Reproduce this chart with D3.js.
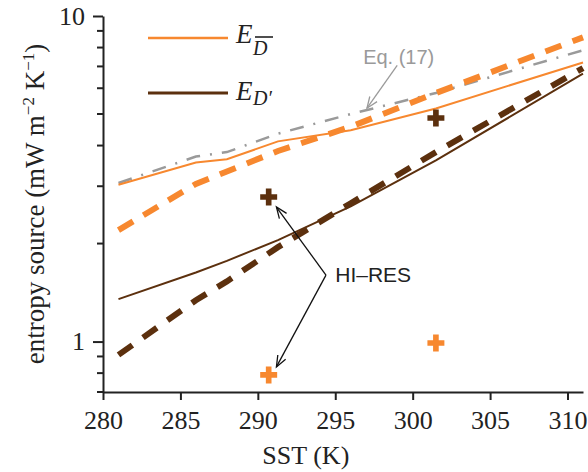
<!DOCTYPE html>
<html>
<head>
    <script src="https://d3js.org/d3.v7.min.js"></script>
    <style>
        body { margin: 0; background: #fff; }
        .tick text { font-family: "Liberation Serif", "Times New Roman", serif; font-size: 26px; fill: #222; }
        .axis path, .axis line { stroke: #222; stroke-width: 2px; }
        .note { font-family: "Liberation Sans", Arial, sans-serif; font-size: 20px; }
    </style>
</head>
<body>
<svg id="chart" width="588" height="472"></svg>
<script>
// SST (K) at which the model curves are given
const sst = [281, 286, 288, 291.3, 296, 301.5, 311];
const eqSeventeen = [3.07, 3.7, 3.82, 4.35, 5.0, 5.8, 7.85];
const eDbar = [3.03, 3.55, 3.63, 4.12, 4.46, 5.2, 7.2];
const eDprime = [1.35, 1.63, 1.77, 2.05, 2.6, 3.6, 6.65];
const eDbarDashed = [2.2, 3.05, 3.33, 3.85, 4.57, 5.8, 8.6];
const eDprimeDashed = [0.91, 1.34, 1.53, 1.95, 2.66, 3.82, 6.92];

// HI-RES points
const hiresSst = [290.7, 301.5];
const hiresDbar = [0.79, 0.99];
const hiresDprime = [2.78, 4.86];

const xTicks = [280, 285, 290, 295, 300, 305, 310];
const yMajor = [1, 10];
const yMinor = [0.7, 0.8, 0.9, 2, 3, 4, 5, 6, 7, 8, 9];

const orange = '#f7882f', brown = '#5c300e', gray = '#9a9a9a';

const svg = d3.select('#chart');
const mLeft = 103, mRight = 583, mTop = 16, mBottom = 392;

const x = d3.scaleLinear().domain([280, 311]).range([mLeft, mRight]);
const y = d3.scaleLog().domain([0.7, 10]).range([mBottom, mTop]);

// axes
svg.append('g')
    .attr('class', 'axis')
    .attr('transform', `translate(0,${mBottom})`)
    .call(d3.axisBottom(x).tickValues(xTicks).tickSize(8).tickPadding(6).tickSizeOuter(0))
    .call(g => g.selectAll('.tick text').attr('dy', '0.9em'));

const yAxis = svg.append('g')
    .attr('class', 'axis')
    .attr('transform', `translate(${mLeft},0)`)
    .call(d3.axisLeft(y).tickValues(yMajor).tickFormat(d3.format('d')).tickSize(10).tickPadding(8).tickSizeOuter(0));

yAxis.selectAll('.minor')
    .data(yMinor)
    .join('line')
    .attr('class', 'minor')
    .attr('x1', -6).attr('x2', 0)
    .attr('y1', d => y(d)).attr('y2', d => y(d));

// axis titles
svg.append('text')
    .attr('x', x(293.1)).attr('y', 464)
    .attr('text-anchor', 'middle')
    .style('font-family', '"Liberation Serif", serif')
    .style('font-size', '26px')
    .style('fill', '#222')
    .text('SST (K)');

const yl = svg.append('text')
    .attr('transform', `translate(44,204) rotate(-90)`)
    .attr('text-anchor', 'middle')
    .style('font-family', '"Liberation Serif", serif')
    .style('font-size', '27px')
    .style('fill', '#222');
yl.append('tspan').text('entropy source (mW m');
yl.append('tspan').attr('dy', -10).style('font-size', '17px').text('\u22122');
yl.append('tspan').attr('dy', 10).text(' K');
yl.append('tspan').attr('dy', -10).style('font-size', '17px').text('\u22121');
yl.append('tspan').attr('dy', 10).text(')');

// curves
const line = d3.line().x((d, i) => x(sst[i])).y(d => y(d));

function drawCurve(values, color, width, dash) {
    svg.append('path')
        .datum(values)
        .attr('d', line)
        .attr('fill', 'none')
        .attr('stroke', color)
        .attr('stroke-width', width)
        .attr('stroke-dasharray', dash);
}

drawCurve(eqSeventeen, gray, 2.5, '14,10,2,10');
drawCurve(eDbar, orange, 2, null);
drawCurve(eDprime, brown, 2, null);
drawCurve(eDbarDashed, orange, 6, '17,12');
drawCurve(eDprimeDashed, brown, 6, '17,13');

// HI-RES crosses
const cross = d3.symbol().type(d3.symbolCross).size(160);
svg.selectAll('.hd')
    .data(hiresSst)
    .join('path')
    .attr('transform', (d, i) => `translate(${x(d)},${y(hiresDbar[i])})`)
    .attr('d', cross)
    .attr('fill', orange);
svg.selectAll('.hp')
    .data(hiresSst)
    .join('path')
    .attr('transform', (d, i) => `translate(${x(d)},${y(hiresDprime[i])})`)
    .attr('d', cross)
    .attr('fill', brown);

// annotation arrows
function arrow(x1, y1, x2, y2, color) {
    const px1 = x(x1), py1 = y(y1), px2 = x(x2), py2 = y(y2);
    const a = Math.atan2(py2 - py1, px2 - px1);
    const len = 12, spread = 0.38;
    svg.append('line')
        .attr('x1', px1).attr('y1', py1).attr('x2', px2).attr('y2', py2)
        .attr('stroke', color).attr('stroke-width', 1.3);
    svg.append('path')
        .attr('d', `M${px2 - len * Math.cos(a - spread)},${py2 - len * Math.sin(a - spread)}L${px2},${py2}L${px2 - len * Math.cos(a + spread)},${py2 - len * Math.sin(a + spread)}`)
        .attr('fill', 'none').attr('stroke', color).attr('stroke-width', 1.3);
}

arrow(294.4, 1.6, 291.2, 2.59, '#111');
arrow(294.4, 1.6, 291.2, 0.836, '#111');
svg.append('text')
    .attr('class', 'note')
    .attr('x', x(295.0)).attr('y', y(1.6))
    .attr('dy', '0.35em')
    .style('font-size', '21px')
    .style('fill', '#222')
    .text('HI\u2013RES');

arrow(299.0, 7.05, 297.05, 5.21, gray);
svg.append('text')
    .attr('class', 'note')
    .attr('x', x(296.8)).attr('y', y(7.1))
    .style('fill', gray)
    .text('Eq. (17)');

// legend
const legend = svg.append('g').style('font-family', '"Liberation Serif", serif').style('font-style', 'italic').style('fill', '#222');
[[orange, 38, 'D', 43, 55], [brown, 93, 'D\u2032', 100, 105]].forEach(([c, ly, sub, base, subBase], i) => {
    legend.append('line')
        .attr('x1', 148).attr('x2', 228).attr('y1', ly).attr('y2', ly)
        .attr('stroke', c).attr('stroke-width', i === 0 ? 2.5 : 3);
    legend.append('text').attr('x', 236).attr('y', base).style('font-size', '27px').text('E');
    legend.append('text').attr('x', 253).attr('y', subBase).style('font-size', '20px').text(sub);
});
legend.append('line')
    .attr('x1', 255).attr('x2', 273).attr('y1', 37).attr('y2', 37)
    .attr('stroke', '#222').attr('stroke-width', 1.6);
</script>
</body>
</html>
